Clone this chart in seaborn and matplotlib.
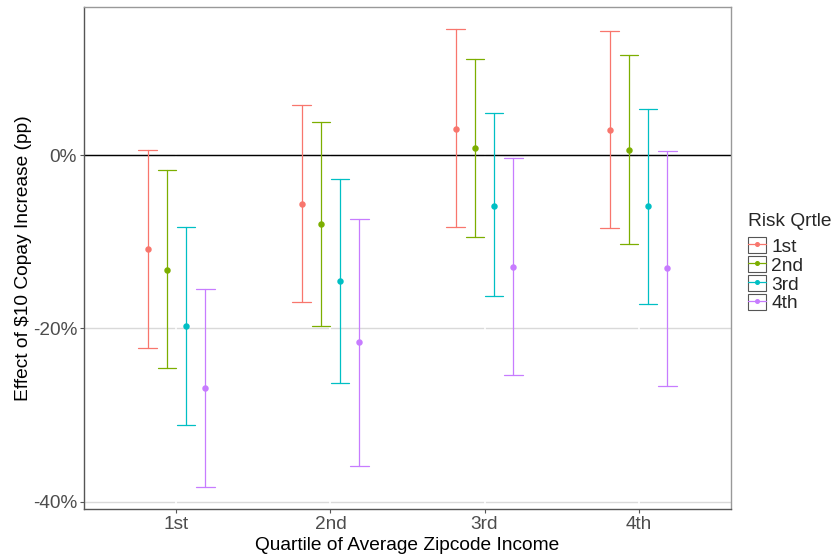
import numpy as np
import pandas as pd
import matplotlib
matplotlib.use("Agg")
import matplotlib.pyplot as plt
import matplotlib.patches as mpatches
from matplotlib.lines import Line2D
from matplotlib.legend_handler import HandlerTuple
from matplotlib.ticker import FuncFormatter
import seaborn as sns

# ---- data (percentage points) ----
income_q = ["1st", "2nd", "3rd", "4th"]
risk_q = ["1st", "2nd", "3rd", "4th"]
colors = ["#F8766D", "#7CAE00", "#00BFC4", "#C77CFF"]

# rows: risk quartile, columns: income quartile
est = [
    [-10.8, -5.6, 3.1, 2.95],
    [-13.2, -7.9, 0.8, 0.6],
    [-19.75, -14.5, -5.8, -5.9],
    [-26.9, -21.6, -12.9, -13.0],
]
lo = [
    [-22.25, -17.0, -8.3, -8.45],
    [-24.6, -19.7, -9.45, -10.25],
    [-31.15, -26.25, -16.3, -17.15],
    [-38.3, -35.9, -25.4, -26.6],
]
hi = [
    [0.6, 5.85, 14.6, 14.4],
    [-1.7, 3.9, 11.1, 11.6],
    [-8.3, -2.7, 4.9, 5.35],
    [-15.45, -7.35, -0.35, 0.45],
]
y_ticks = [-40, -20, 0]

rows = []
for r, rq in enumerate(risk_q):
    for i, iq in enumerate(income_q):
        for v in (lo[r][i], est[r][i], hi[r][i]):
            rows.append({"income": iq, "risk": rq, "value": v})
df = pd.DataFrame(rows)

sns.set_theme(style="white")
plt.rcParams["font.family"] = ["Liberation Sans", "DejaVu Sans"]

fig = plt.figure(figsize=(8.36, 5.59), dpi=100)
ax = fig.add_axes([84 / 836, 1 - 509.3 / 559, (731 - 84) / 836, (509.3 - 6.5) / 559])

ax.axhline(0, color="black", lw=1.0, zorder=1.8)

sns.pointplot(
    data=df, x="income", y="value", hue="risk",
    order=income_q, hue_order=risk_q, palette=colors,
    estimator="median", errorbar=("pi", 100),
    dodge=0.375, linestyle="none", marker="o", markersize=2.6,
    capsize=0.12, err_kws={"linewidth": 0.9},
    legend=False, ax=ax,
)

ax.set_xlim(-0.6, 3.6)
ax.set_ylim(-40.9, 17.2)
ax.set_yticks(y_ticks)
ax.yaxis.set_major_formatter(FuncFormatter(lambda v, p: f"{v:.0f}%"))

ax.set_axisbelow(True)
ax.grid(axis="y", color="#D9D9D9", lw=1.0)
ax.grid(axis="x", color="white", lw=1.2)
ax.xaxis.set_zorder(0.6)

for s in ["left", "bottom"]:
    ax.spines[s].set_color("#555555")
for s in ["top", "right"]:
    ax.spines[s].set_color("#999999")
for s in ax.spines.values():
    s.set_linewidth(1.0)

ax.tick_params(axis="both", which="major", length=3, width=0.8, color="#555555",
               labelsize=13.7, labelcolor="#4D4D4D", pad=2)
ax.tick_params(axis="x", bottom=True)
ax.tick_params(axis="y", left=True)

ax.set_xlabel("Quartile of Average Zipcode Income", fontsize=13.8, color="black", labelpad=3)
ax.set_ylabel(r"Effect of \$10 Copay Increase (pp)", fontsize=13.8, color="black", labelpad=0.5)

handles = []
for c in colors:
    box = mpatches.Rectangle((0, 0), 1, 1, facecolor="white", edgecolor="#555555", lw=0.8)
    ln = Line2D([], [], color=c, marker="o", markersize=2.6, lw=0.9)
    handles.append((box, ln))
leg = fig.legend(
    handles, risk_q, title="Risk Qrtle",
    handler_map={tuple: HandlerTuple(ndivide=1, pad=0)},
    loc="upper left", bbox_to_anchor=(748 / 836, 1 - 213 / 559),
    frameon=False, fontsize=13.8, title_fontsize=13.8,
    handlelength=0.92, handleheight=0.95, handletextpad=0.3,
    labelspacing=0.0, borderpad=0, borderaxespad=0,
)
leg._legend_box.align = "left"
leg._legend_box.sep = 5

fig.savefig("out.png", dpi=100)
